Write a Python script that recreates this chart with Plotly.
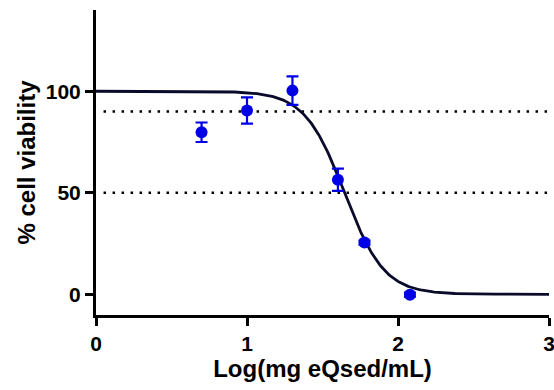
import numpy as np
import plotly.graph_objects as go

# Data
log_conc = [0.699, 1.0, 1.301, 1.602, 1.778, 2.079]
viability = [79.8, 90.5, 100.3, 56.4, 25.5, -0.2]
viability_err = [4.8, 6.5, 7.0, 5.5, 1.0, 1.0]

# Fitted 4-parameter logistic curve parameters
fit_top = 100.0
fit_bottom = 0.0
fit_log_ic50 = 1.646
fit_hill = 3.3

# Reference threshold lines
thresholds = [90, 50]

x_ticks = [0, 1, 2, 3]
y_ticks = [0, 50, 100]

FONT = "Liberation Sans, Arial, sans-serif"

xc = np.linspace(0, 3, 400)
yc = fit_bottom + (fit_top - fit_bottom) / (1 + 10 ** ((xc - fit_log_ic50) * fit_hill))

fig = go.Figure()

for t in thresholds:
    fig.add_trace(go.Scatter(
        x=[0.05, 3], y=[t, t], mode="lines",
        line=dict(color="black", width=2.5, dash="2.5px,6.5px"),
        hoverinfo="skip", showlegend=False))

fig.add_trace(go.Scatter(
    x=xc, y=yc, mode="lines",
    line=dict(color="#0a0a2a", width=2.8),
    showlegend=False))

fig.add_trace(go.Scatter(
    x=log_conc, y=viability, mode="markers",
    marker=dict(color="#0000e6", size=12),
    error_y=dict(type="data", array=viability_err, visible=True,
                 color="#0000e6", thickness=2.2, width=6),
    showlegend=False))

fig.update_layout(
    width=554, height=390,
    margin=dict(l=96, r=5, t=10, b=75),
    paper_bgcolor="white", plot_bgcolor="white",
    font=dict(family=FONT, color="black"),
)

fig.update_xaxes(
    range=[0, 3], tickvals=x_ticks, ticktext=["<b>%d</b>" % v for v in x_ticks],
    showgrid=False, zeroline=False, automargin=False, ticklabeloverflow="allow",
    showline=True, linecolor="black", linewidth=3,
    ticks="outside", ticklen=8, tickwidth=3, tickcolor="black",
    tickfont=dict(size=21, family=FONT, weight=700),
    title=dict(text="<b>Log(mg eQsed/mL)</b>", font=dict(size=24, family=FONT), standoff=6),
)
fig.update_yaxes(
    range=[-10.2, 140], tickvals=y_ticks, ticktext=["<b>%d</b>" % v for v in y_ticks],
    showgrid=False, zeroline=False, automargin=False, ticklabeloverflow="allow",
    showline=True, linecolor="black", linewidth=3,
    ticks="outside", ticklen=8, tickwidth=3, tickcolor="black",
    tickfont=dict(size=21, family=FONT, weight=700),
    title=dict(text="<b>% cell viability</b>", font=dict(size=24, family=FONT), standoff=4),
)

fig.write_html("out.html")
